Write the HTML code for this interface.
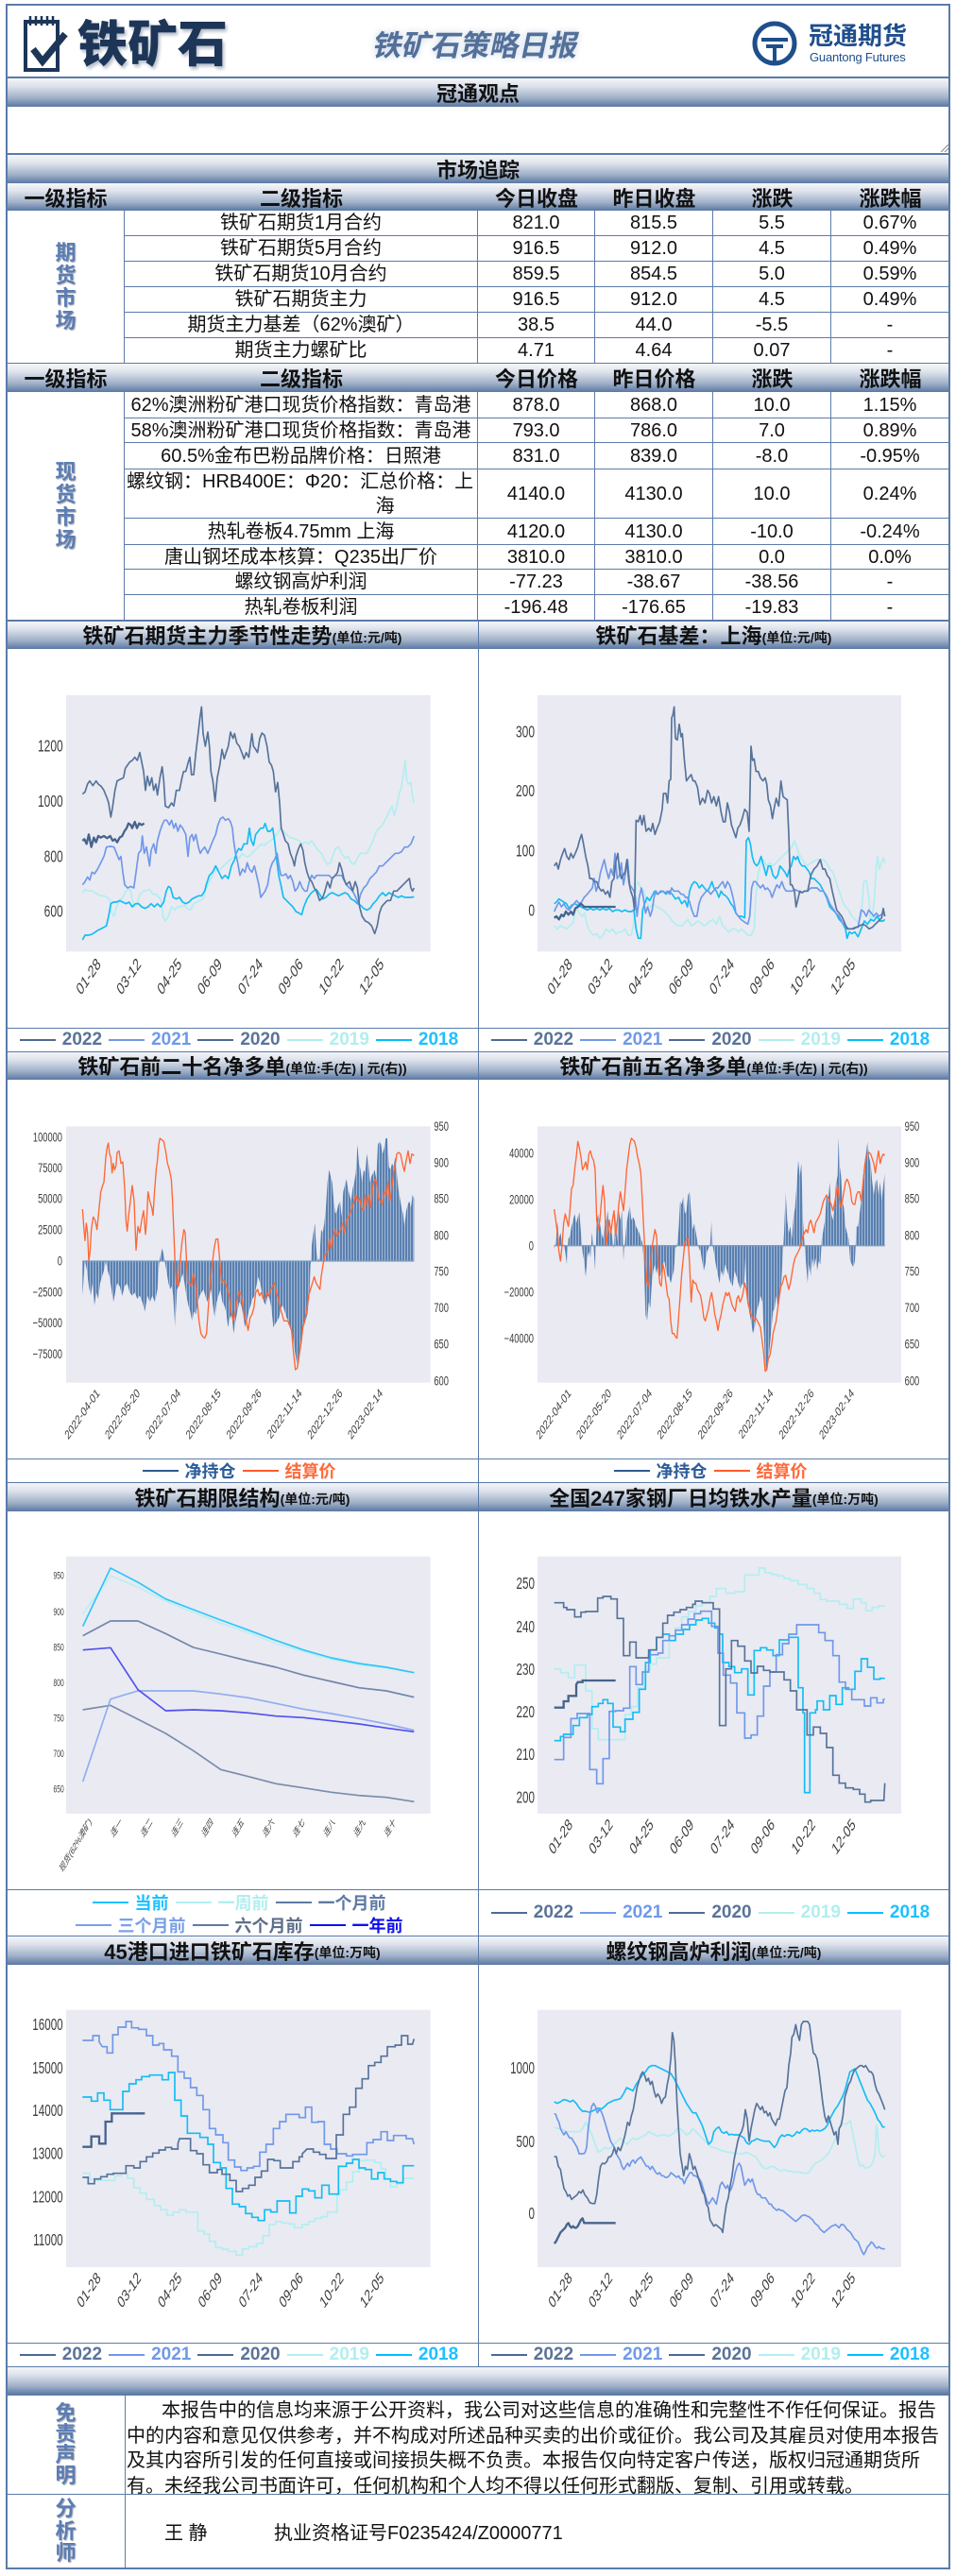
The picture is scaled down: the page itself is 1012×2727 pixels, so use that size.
<!DOCTYPE html>
<html><head><meta charset="utf-8">
<style>
*{margin:0;padding:0}
body{margin:0;background:#fff}
#p{position:relative;width:1012px;height:2727px;background:#fff;overflow:hidden;font-family:"Liberation Sans","Noto Sans CJK SC",sans-serif;color:#111}
.a{position:absolute}
.gb{position:absolute;background:linear-gradient(to bottom,#f6f7fa 0%,#dde2eb 30%,#9fb0c8 70%,#5a78a3 100%)}
.bt{display:flex;align-items:center;justify-content:center;font-weight:bold;font-size:22px;color:#111;font-family:"Liberation Sans","Noto Sans CJK SC",sans-serif}
.bt small{font-size:14px;font-weight:bold;margin-top:5px}
.hl{position:absolute;background:#5b7baa}
.r{position:absolute;left:132px;width:873px;display:flex}
.c{box-sizing:border-box;border-right:1px solid #5b7baa;border-bottom:1px solid #5b7baa;display:flex;align-items:center;justify-content:center;font-size:20px;white-space:nowrap;text-align:center;line-height:26px}
.hr{position:absolute;left:7px;width:998px;display:flex}
.hc{display:flex;align-items:center;justify-content:center;font-weight:bold;font-size:22px}
.vt{position:absolute;width:125px;display:flex;align-items:center;justify-content:center;text-align:center;font-weight:bold;font-size:22px;line-height:24px;color:#5b7db4;text-shadow:1px 1px 1px #a0a6b0}
.lg{position:absolute;display:flex;justify-content:center;align-items:center;font-weight:bold;font-size:19px;white-space:nowrap}
.lg i{display:inline-block;width:38px;height:2px;margin-right:7px}
.lg span{margin-right:7px}
.lg2{font-size:18px}
svg text{font-family:"Liberation Sans","Noto Sans CJK SC",sans-serif;fill:#3d3d3d}
</style></head>
<body>
<div id="p">

<!-- Header -->
<svg class="a" style="left:22px;top:14px" width="54" height="64" viewBox="0 0 54 64">
<rect x="5" y="9" width="34" height="51" fill="none" stroke="#1d3557" stroke-width="4"/>
<g stroke="#1d3557" stroke-width="2.5"><line x1="10" y1="3" x2="10" y2="13"/><line x1="16" y1="3" x2="16" y2="13"/><line x1="22" y1="3" x2="22" y2="13"/><line x1="28" y1="3" x2="28" y2="13"/><line x1="34" y1="3" x2="34" y2="13"/></g>
<polyline points="13,38 23,51 47,22" fill="none" stroke="#1d3557" stroke-width="7"/>
</svg>
<div class="a" style="left:82px;top:10px;font-size:53px;font-weight:900;color:#1d3557;line-height:66px;text-shadow:2px 3px 3px #b8c0cc;font-family:'Noto Sans CJK SC',sans-serif">铁矿石</div>
<div class="a" style="left:396px;top:26px;font-size:31px;font-weight:bold;color:#52709a;line-height:40px;text-shadow:0 0 8px #c8d2e2;transform:skewX(-12deg);font-family:'Noto Sans CJK SC',sans-serif">铁矿石策略日报</div>
<svg class="a" style="left:795px;top:20px" width="50" height="52" viewBox="0 0 50 52">
<circle cx="25" cy="26" r="21" fill="none" stroke="#1f4e8c" stroke-width="5"/>
<g stroke="#1f4e8c" stroke-width="4"><line x1="11" y1="22" x2="39" y2="22"/><line x1="16" y1="29" x2="34" y2="29"/><line x1="25" y1="29" x2="25" y2="45"/></g>
</svg>
<div class="a" style="left:856px;top:20px;font-size:26px;font-weight:bold;color:#1f4e8c;line-height:34px;font-family:'Noto Sans CJK SC',sans-serif">冠通期货</div>
<div class="a" style="left:857px;top:53px;font-size:13px;color:#1f4e8c;line-height:16px;letter-spacing:-0.2px">Guantong Futures</div>

<!-- bars -->
<div class="gb bt" style="left:7px;top:82px;width:998px;height:31px">冠通观点</div>
<svg class="a" style="left:996px;top:153px" width="8" height="8"><line x1="0" y1="8" x2="8" y2="0" stroke="#888"/><line x1="4" y1="8" x2="8" y2="4" stroke="#888"/></svg>
<div class="gb bt" style="left:7px;top:164px;width:998px;height:30px">市场追踪</div>
<div class="gb" style="left:7px;top:194px;width:998px;height:29px"></div>
<div class="hr" style="top:194px;height:29px"><div class="hc" style="width:125px">一级指标</div><div class="hc" style="width:374px">二级指标</div><div class="hc" style="width:124px">今日收盘</div><div class="hc" style="width:125px">昨日收盘</div><div class="hc" style="width:125px">涨跌</div><div class="hc" style="width:125px">涨跌幅</div></div>

<!-- section 1 -->
<div class="a" style="left:7px;top:223px;width:125px;height:162px;box-sizing:border-box;border-right:1px solid #5b7baa;border-bottom:1px solid #5b7baa"></div>
<div class="vt" style="left:7px;top:223px;height:162px">期<br>货<br>市<br>场</div>
<div class="r" style="top:223px;height:27px"><div class="c" style="width:374px">铁矿石期货1月合约</div><div class="c" style="width:124px">821.0</div><div class="c" style="width:125px">815.5</div><div class="c" style="width:125px">5.5</div><div class="c" style="width:125px">0.67%</div></div>
<div class="r" style="top:250px;height:27px"><div class="c" style="width:374px">铁矿石期货5月合约</div><div class="c" style="width:124px">916.5</div><div class="c" style="width:125px">912.0</div><div class="c" style="width:125px">4.5</div><div class="c" style="width:125px">0.49%</div></div>
<div class="r" style="top:277px;height:27px"><div class="c" style="width:374px">铁矿石期货10月合约</div><div class="c" style="width:124px">859.5</div><div class="c" style="width:125px">854.5</div><div class="c" style="width:125px">5.0</div><div class="c" style="width:125px">0.59%</div></div>
<div class="r" style="top:304px;height:27px"><div class="c" style="width:374px">铁矿石期货主力</div><div class="c" style="width:124px">916.5</div><div class="c" style="width:125px">912.0</div><div class="c" style="width:125px">4.5</div><div class="c" style="width:125px">0.49%</div></div>
<div class="r" style="top:331px;height:27px"><div class="c" style="width:374px">期货主力基差（62%澳矿）</div><div class="c" style="width:124px">38.5</div><div class="c" style="width:125px">44.0</div><div class="c" style="width:125px">-5.5</div><div class="c" style="width:125px">-</div></div>
<div class="r" style="top:358px;height:27px"><div class="c" style="width:374px">期货主力螺矿比</div><div class="c" style="width:124px">4.71</div><div class="c" style="width:125px">4.64</div><div class="c" style="width:125px">0.07</div><div class="c" style="width:125px">-</div></div>

<div class="gb" style="left:7px;top:385px;width:998px;height:30px"></div>
<div class="hr" style="top:385px;height:30px"><div class="hc" style="width:125px">一级指标</div><div class="hc" style="width:374px">二级指标</div><div class="hc" style="width:124px">今日价格</div><div class="hc" style="width:125px">昨日价格</div><div class="hc" style="width:125px">涨跌</div><div class="hc" style="width:125px">涨跌幅</div></div>

<!-- section 2 -->
<div class="a" style="left:7px;top:415px;width:125px;height:242px;box-sizing:border-box;border-right:1px solid #5b7baa;border-bottom:1px solid #5b7baa"></div>
<div class="vt" style="left:7px;top:415px;height:242px">现<br>货<br>市<br>场</div>
<div class="r" style="top:415px;height:28px"><div class="c" style="width:374px">62%澳洲粉矿港口现货价格指数：青岛港</div><div class="c" style="width:124px">878.0</div><div class="c" style="width:125px">868.0</div><div class="c" style="width:125px">10.0</div><div class="c" style="width:125px">1.15%</div></div>
<div class="r" style="top:443px;height:26px"><div class="c" style="width:374px">58%澳洲粉矿港口现货价格指数：青岛港</div><div class="c" style="width:124px">793.0</div><div class="c" style="width:125px">786.0</div><div class="c" style="width:125px">7.0</div><div class="c" style="width:125px">0.89%</div></div>
<div class="r" style="top:469px;height:28px"><div class="c" style="width:374px">60.5%金布巴粉品牌价格：日照港</div><div class="c" style="width:124px">831.0</div><div class="c" style="width:125px">839.0</div><div class="c" style="width:125px">-8.0</div><div class="c" style="width:125px">-0.95%</div></div>
<div class="r" style="top:497px;height:52px"><div class="c" style="width:374px;justify-content:flex-start;padding-left:2px"><div>螺纹钢：HRB400E：Φ20：汇总价格：上<br><span style="padding-left:180px">海</span></div></div><div class="c" style="width:124px">4140.0</div><div class="c" style="width:125px">4130.0</div><div class="c" style="width:125px">10.0</div><div class="c" style="width:125px">0.24%</div></div>
<div class="r" style="top:549px;height:28px"><div class="c" style="width:374px">热轧卷板4.75mm 上海</div><div class="c" style="width:124px">4120.0</div><div class="c" style="width:125px">4130.0</div><div class="c" style="width:125px">-10.0</div><div class="c" style="width:125px">-0.24%</div></div>
<div class="r" style="top:577px;height:26px"><div class="c" style="width:374px">唐山钢坯成本核算：Q235出厂价</div><div class="c" style="width:124px">3810.0</div><div class="c" style="width:125px">3810.0</div><div class="c" style="width:125px">0.0</div><div class="c" style="width:125px">0.0%</div></div>
<div class="r" style="top:603px;height:27px"><div class="c" style="width:374px">螺纹钢高炉利润</div><div class="c" style="width:124px">-77.23</div><div class="c" style="width:125px">-38.67</div><div class="c" style="width:125px">-38.56</div><div class="c" style="width:125px">-</div></div>
<div class="r" style="top:630px;height:27px"><div class="c" style="width:374px">热轧卷板利润</div><div class="c" style="width:124px">-196.48</div><div class="c" style="width:125px">-176.65</div><div class="c" style="width:125px">-19.83</div><div class="c" style="width:125px">-</div></div>

<!-- chart title bars -->
<div class="gb bt" style="left:7px;top:657px;width:499px;height:30px">铁矿石期货主力季节性走势<small>(单位:元/吨)</small></div>
<div class="gb bt" style="left:506px;top:657px;width:499px;height:30px">铁矿石基差：上海<small>(单位:元/吨)</small></div>
<div class="gb bt" style="left:7px;top:1113px;width:499px;height:30px">铁矿石前二十名净多单<small>(单位:手(左) | 元(右))</small></div>
<div class="gb bt" style="left:506px;top:1113px;width:499px;height:30px">铁矿石前五名净多单<small>(单位:手(左) | 元(右))</small></div>
<div class="gb bt" style="left:7px;top:1569px;width:499px;height:31px">铁矿石期限结构<small>(单位:元/吨)</small></div>
<div class="gb bt" style="left:506px;top:1569px;width:499px;height:31px">全国247家钢厂日均铁水产量<small>(单位:万吨)</small></div>
<div class="gb bt" style="left:7px;top:2049px;width:499px;height:31px">45港口进口铁矿石库存<small>(单位:万吨)</small></div>
<div class="gb bt" style="left:506px;top:2049px;width:499px;height:31px">螺纹钢高炉利润<small>(单位:元/吨)</small></div>
<div class="gb" style="left:7px;top:2505px;width:998px;height:30px"></div>

<!-- Chart 1L -->
<svg class="a" style="left:0;top:650px" width="510" height="480" viewBox="0 0 1530 1440">
<rect x="210" y="258" width="1157" height="814" fill="#eaeaf2"/>
<g font-size="36" text-anchor="end">
<text transform="translate(200,418) scale(1,1.5)" dy=".35em">1200</text>
<text transform="translate(200,593) scale(1,1.5)" dy=".35em">1000</text>
<text transform="translate(200,768) scale(1,1.5)" dy=".35em">800</text>
<text transform="translate(200,943) scale(1,1.5)" dy=".35em">600</text>
<text transform="translate(322,1115) scale(1,1.5) rotate(-45)">01-28</text>
<text transform="translate(450,1115) scale(1,1.5) rotate(-45)">03-12</text>
<text transform="translate(579,1115) scale(1,1.5) rotate(-45)">04-25</text>
<text transform="translate(707,1115) scale(1,1.5) rotate(-45)">06-09</text>
<text transform="translate(836,1115) scale(1,1.5) rotate(-45)">07-24</text>
<text transform="translate(964,1115) scale(1,1.5) rotate(-45)">09-06</text>
<text transform="translate(1093,1115) scale(1,1.5) rotate(-45)">10-22</text>
<text transform="translate(1221,1115) scale(1,1.5) rotate(-45)">12-05</text>
</g>
<g fill="none" stroke-width="5" stroke-linejoin="round">
<polyline stroke="#b2eef0" points="262,885 270,875 280,880 290,878 300,885 310,890 320,895 330,895 340,900 350,910 355,950 362,960 370,930 380,910 390,900 400,880 408,870 415,880 425,930 435,920 445,890 455,880 465,878 475,875 485,890 495,890 505,900 512,910 518,960 525,975 535,960 545,930 555,940 565,930 575,930 585,925 595,935 605,940 615,920 625,915 635,910 645,905 652,880 660,860 670,840 680,820 690,810 700,810 710,800 720,790 730,780 740,775 750,770 760,775 770,760 780,770 790,770 800,760 810,750 820,740 830,730 840,735 850,725 860,720 870,710 880,700 890,680 900,690 910,700 920,710 930,712 940,715 950,720 960,730 970,725 980,730 990,720 1000,735 1010,750 1020,760 1030,780 1040,795 1050,790 1058,765 1065,745 1075,740 1085,760 1095,775 1105,770 1115,790 1125,795 1135,775 1145,760 1155,760 1165,760 1175,740 1185,720 1195,690 1205,680 1215,670 1225,650 1235,630 1245,610 1252,640 1260,610 1268,570 1275,550 1282,500 1287,465 1292,530 1298,540 1305,535 1310,580 1315,600"/>
<polyline stroke="#12bdf5" points="262,1035 270,1020 280,1020 290,1018 300,1012 310,1005 320,1000 330,995 338,990 345,960 352,920 360,915 370,915 380,910 390,915 400,920 410,915 420,930 430,920 440,920 450,930 460,935 470,930 480,920 490,930 500,920 510,930 520,915 528,880 535,865 542,870 550,900 560,905 570,900 580,915 590,920 600,915 610,905 620,900 630,895 640,895 650,880 655,860 665,830 675,820 685,800 695,820 705,840 715,830 725,840 735,800 745,780 750,760 758,745 766,750 775,730 785,730 792,680 798,720 805,735 812,700 820,690 828,680 836,680 842,665 850,690 858,690 866,680 872,720 878,775 885,830 892,860 900,900 910,910 920,920 930,930 940,945 950,950 958,955 965,930 975,905 985,890 995,880 1005,875 1015,890 1025,905 1035,900 1045,890 1055,885 1065,890 1075,895 1085,890 1095,885 1105,890 1115,905 1125,910 1135,920 1145,925 1155,935 1165,940 1175,935 1185,920 1195,910 1205,895 1215,885 1225,895 1235,885 1245,890 1255,895 1265,900 1275,895 1285,900 1295,900 1305,900 1315,898"/>
<polyline stroke="#6f98ea" points="262,860 270,850 278,835 285,845 292,820 300,825 310,810 320,790 330,770 338,740 350,738 362,740 370,760 378,780 384,770 390,820 396,860 405,870 415,865 425,870 432,820 440,760 448,750 452,705 458,760 465,740 470,770 475,800 480,750 488,730 495,760 500,720 508,690 515,670 522,655 530,655 538,670 545,655 552,680 558,665 565,690 572,670 580,680 590,700 597,770 603,710 610,700 615,720 622,700 630,740 636,760 642,750 650,740 660,760 668,740 676,720 685,700 692,670 700,650 708,645 716,655 725,650 732,660 738,680 742,720 748,760 755,790 762,830 770,810 778,820 785,790 792,810 800,820 808,800 815,830 822,860 828,900 835,890 842,880 850,860 858,810 865,790 872,780 880,760 886,800 892,830 900,830 908,825 915,840 922,830 930,850 937,880 945,870 952,850 960,870 968,880 975,880 982,850 990,830 998,840 1005,830 1015,830 1025,830 1035,830 1045,830 1055,840 1065,830 1075,830 1085,830 1092,845 1100,860 1110,870 1120,880 1130,900 1138,920 1145,890 1155,870 1165,860 1175,840 1185,830 1195,820 1205,800 1215,800 1225,790 1235,780 1245,770 1255,760 1265,760 1275,755 1285,740 1295,740 1305,730 1315,705"/>
<polyline stroke="#55739b" points="262,572 270,565 278,540 285,530 295,545 305,530 312,540 322,548 330,560 340,585 345,600 352,645 358,610 365,560 372,530 382,525 392,520 398,490 405,480 412,470 420,465 428,455 436,465 444,440 450,470 456,500 462,560 468,515 475,545 482,520 488,560 495,540 500,575 508,520 515,485 520,530 525,610 535,615 545,600 552,610 560,560 570,560 578,520 583,500 590,500 598,470 603,455 608,510 615,510 622,440 628,390 635,330 640,295 645,380 652,420 660,375 665,420 670,500 676,530 683,595 690,520 698,480 705,430 712,460 718,440 725,420 732,375 740,395 745,380 752,410 760,420 768,440 775,460 782,440 790,455 800,380 805,420 812,430 818,440 825,395 832,378 840,385 848,420 855,470 862,480 868,500 875,565 882,535 888,600 893,680 900,700 906,720 915,730 922,760 930,780 935,800 940,770 948,745 955,730 962,750 968,790 975,820 982,840 990,850 998,870 1005,880 1015,910 1025,900 1032,880 1040,850 1048,870 1055,840 1065,830 1072,820 1078,790 1085,810 1092,840 1100,860 1110,850 1120,880 1128,850 1135,870 1142,930 1150,960 1160,975 1170,980 1180,990 1190,1015 1198,990 1205,950 1212,930 1220,920 1230,910 1240,910 1250,880 1260,880 1270,870 1280,860 1290,850 1300,840 1305,870 1310,880 1315,870"/>
<polyline stroke="#46648d" stroke-width="7" points="262,720 268,715 275,730 282,700 290,740 298,710 305,725 312,705 320,710 330,705 340,712 350,705 358,720 365,715 372,725 380,710 388,705 395,690 402,680 408,665 415,670 420,680 428,660 435,680 442,665 450,670 458,665"/>
</g>
</svg>

<!-- Chart 1R -->
<svg class="a" style="left:505px;top:650px" width="507" height="480" viewBox="0 0 1521 1440">
<rect x="192" y="258" width="1155" height="814" fill="#eaeaf2"/>
<g font-size="36" text-anchor="end">
<text transform="translate(183,372) scale(1,1.5)" dy=".35em">300</text>
<text transform="translate(183,560) scale(1,1.5)" dy=".35em">200</text>
<text transform="translate(183,750) scale(1,1.5)" dy=".35em">100</text>
<text transform="translate(183,940) scale(1,1.5)" dy=".35em">0</text>
<text transform="translate(304,1115) scale(1,1.5) rotate(-45)">01-28</text>
<text transform="translate(432,1115) scale(1,1.5) rotate(-45)">03-12</text>
<text transform="translate(561,1115) scale(1,1.5) rotate(-45)">04-25</text>
<text transform="translate(689,1115) scale(1,1.5) rotate(-45)">06-09</text>
<text transform="translate(818,1115) scale(1,1.5) rotate(-45)">07-24</text>
<text transform="translate(946,1115) scale(1,1.5) rotate(-45)">09-06</text>
<text transform="translate(1075,1115) scale(1,1.5) rotate(-45)">10-22</text>
<text transform="translate(1203,1115) scale(1,1.5) rotate(-45)">12-05</text>
</g>
<g fill="none" stroke-width="5" stroke-linejoin="round">
<polyline stroke="#b2eef0" points="245,990 255,1000 265,990 275,995 285,1000 295,990 305,980 315,930 325,950 335,960 342,950 350,990 360,1010 370,1020 380,1015 390,1030 400,1020 410,1000 420,1010 430,1000 440,1015 450,1010 460,1010 470,1000 480,1020 490,1020 498,980 505,860 512,850 520,870 530,880 540,920 550,930 560,920 570,930 580,935 590,940 600,950 610,960 620,975 630,985 640,990 650,990 660,980 670,970 680,990 690,985 700,975 710,980 720,990 730,985 740,975 750,970 760,985 770,960 780,990 790,1000 800,1010 810,1000 820,1000 830,1010 840,1000 850,1010 860,1020 870,1020 880,1000 885,900 892,830 900,790 910,780 920,800 930,790 940,800 950,790 960,780 970,770 980,760 990,750 1000,740 1008,720 1015,740 1022,760 1030,775 1040,790 1050,800 1060,790 1070,785 1080,780 1090,780 1100,780 1110,790 1120,810 1130,820 1140,850 1150,880 1160,910 1170,930 1180,940 1190,960 1200,970 1210,980 1220,960 1228,850 1236,845 1244,900 1250,980 1256,960 1262,900 1268,800 1272,770 1278,810 1284,790 1290,775 1295,790"/>
<polyline stroke="#12bdf5" points="245,920 252,915 260,905 268,910 276,915 284,920 292,935 300,925 310,920 320,925 330,930 340,935 350,940 360,935 370,940 380,935 390,940 400,935 410,940 420,935 430,945 440,940 450,940 460,945 470,940 480,945 490,945 498,940 505,1000 512,1030 520,1030 526,940 532,920 540,900 548,910 556,895 564,880 572,890 580,885 590,880 600,890 610,880 620,890 630,905 640,900 650,920 660,910 668,930 675,880 682,860 690,850 698,855 706,870 714,860 722,870 730,880 738,870 746,850 752,870 760,880 768,900 775,880 782,890 790,895 798,905 806,920 814,930 822,950 830,960 840,960 850,965 855,720 862,710 868,730 874,770 880,790 888,800 895,790 902,770 910,800 918,830 925,800 932,800 940,830 948,840 955,830 962,800 970,810 978,820 985,835 992,810 998,800 1005,770 1012,780 1018,770 1025,790 1032,800 1040,800 1048,810 1055,820 1062,840 1070,840 1080,850 1090,860 1100,880 1110,900 1120,930 1130,940 1140,950 1150,970 1160,980 1170,1000 1175,1030 1182,1010 1190,1015 1200,1010 1210,1025 1220,1000 1230,975 1240,985 1250,970 1260,975 1270,960 1280,975 1290,975 1295,970"/>
<polyline stroke="#6f98ea" points="245,945 252,930 260,915 268,930 276,920 284,935 292,940 300,930 308,920 316,910 324,920 332,915 340,900 350,890 358,880 366,870 372,840 378,880 385,860 392,820 398,800 404,780 410,810 418,840 425,810 432,830 438,760 445,840 452,830 458,790 465,860 472,820 478,780 485,860 492,870 498,880 503,900 508,960 515,900 522,870 528,900 535,950 542,930 550,960 556,940 562,900 568,880 575,890 582,880 590,880 598,885 605,880 612,890 618,870 625,880 632,880 640,880 648,890 655,890 662,900 668,900 675,915 682,940 690,960 698,960 705,920 712,900 720,890 728,880 735,880 742,890 750,880 758,870 765,870 772,860 780,850 788,870 795,850 802,860 808,880 815,910 822,950 830,960 838,970 845,975 852,980 860,985 866,960 872,870 878,850 885,850 892,860 900,870 908,860 915,875 922,870 930,880 937,900 944,880 952,860 960,870 968,850 975,870 982,880 990,880 1000,880 1010,875 1020,880 1030,885 1040,880 1050,880 1060,870 1070,870 1080,870 1090,880 1100,880 1110,895 1120,920 1130,935 1140,950 1150,960 1160,980 1170,990 1180,1000 1190,1000 1200,995 1210,995 1220,940 1228,945 1236,960 1244,940 1252,950 1260,960 1268,950 1276,960 1284,955 1290,945 1295,960"/>
<polyline stroke="#55739b" points="245,800 252,790 258,810 265,780 272,760 278,745 285,770 292,780 298,760 305,775 312,760 320,740 325,720 332,700 338,730 345,770 352,800 358,840 365,840 372,850 380,850 388,870 395,880 400,875 408,890 415,880 422,900 428,850 435,840 440,790 447,760 452,810 458,840 464,830 470,820 476,780 482,850 488,880 495,900 500,940 505,655 512,660 518,640 524,670 530,640 537,690 545,680 552,690 558,665 565,700 572,680 580,660 588,620 592,570 600,570 605,600 610,530 615,525 618,330 622,320 626,295 630,395 636,400 642,350 648,390 652,380 658,460 665,530 672,520 680,510 686,530 692,530 700,550 708,605 716,585 724,600 732,560 738,570 745,600 752,580 760,610 767,580 775,630 782,660 788,660 795,600 802,630 808,670 815,690 822,710 828,680 835,670 842,650 850,620 858,630 864,690 870,420 875,465 880,460 886,500 893,500 900,520 908,530 915,520 920,540 925,590 932,610 938,650 943,620 950,585 958,610 965,530 972,580 978,585 985,590 990,700 995,860 1000,860 1008,880 1013,930 1018,910 1025,880 1032,885 1040,880 1050,880 1060,830 1070,810 1080,800 1090,780 1098,810 1105,810 1112,830 1120,840 1128,880 1135,910 1142,940 1150,950 1158,960 1165,975 1175,1000 1185,1000 1195,1000 1205,995 1215,990 1225,985 1235,990 1245,1000 1255,995 1265,985 1275,975 1285,965 1290,935 1295,960"/>
<polyline stroke="#46648d" stroke-width="7" points="245,965 252,960 260,970 268,955 275,960 282,945 290,955 298,945 305,955 312,935 320,930 330,920 340,930 360,930 380,930 400,930 440,930"/>
</g>
</svg>

<!-- Chart 2L -->
<svg class="a" style="left:0;top:1105px" width="510" height="480" viewBox="0 0 1530 1440">
<defs><pattern id="bp1" width="9" height="10" patternUnits="userSpaceOnUse"><rect width="9" height="10" fill="#9fb6d3"/><rect width="6" height="10" fill="#5a80b0"/></pattern></defs>
<rect x="210" y="262" width="1157" height="814" fill="#eaeaf2"/>
<g font-size="28" text-anchor="end">
<text transform="translate(198,296) scale(1,1.45)" dy=".35em">100000</text>
<text transform="translate(198,394) scale(1,1.45)" dy=".35em">75000</text>
<text transform="translate(198,492) scale(1,1.45)" dy=".35em">50000</text>
<text transform="translate(198,590) scale(1,1.45)" dy=".35em">25000</text>
<text transform="translate(198,690) scale(1,1.45)" dy=".35em">0</text>
<text transform="translate(198,788) scale(1,1.45)" dy=".35em">−25000</text>
<text transform="translate(198,886) scale(1,1.45)" dy=".35em">−50000</text>
<text transform="translate(198,985) scale(1,1.45)" dy=".35em">−75000</text>
<text transform="translate(318,1112) scale(1,1.45) rotate(-45)">2022-04-01</text>
<text transform="translate(446,1112) scale(1,1.45) rotate(-45)">2022-05-20</text>
<text transform="translate(575,1112) scale(1,1.45) rotate(-45)">2022-07-04</text>
<text transform="translate(703,1112) scale(1,1.45) rotate(-45)">2022-08-15</text>
<text transform="translate(832,1112) scale(1,1.45) rotate(-45)">2022-09-26</text>
<text transform="translate(960,1112) scale(1,1.45) rotate(-45)">2022-11-14</text>
<text transform="translate(1089,1112) scale(1,1.45) rotate(-45)">2022-12-26</text>
<text transform="translate(1217,1112) scale(1,1.45) rotate(-45)">2023-02-14</text>
</g>
<g font-size="28" text-anchor="start">
<text transform="translate(1378,262) scale(1,1.45)" dy=".35em">950</text>
<text transform="translate(1378,377) scale(1,1.45)" dy=".35em">900</text>
<text transform="translate(1378,492) scale(1,1.45)" dy=".35em">850</text>
<text transform="translate(1378,608) scale(1,1.45)" dy=".35em">800</text>
<text transform="translate(1378,723) scale(1,1.45)" dy=".35em">750</text>
<text transform="translate(1378,838) scale(1,1.45)" dy=".35em">700</text>
<text transform="translate(1378,954) scale(1,1.45)" dy=".35em">650</text>
<text transform="translate(1378,1070) scale(1,1.45)" dy=".35em">600</text>
</g>
<polygon fill="url(#bp1)" points="262,690 262,800 266,740 270,690 276,720 282,770 288,800 294,760 300,830 306,790 312,810 318,760 324,740 330,720 336,690 342,720 348,740 354,780 360,820 366,790 372,760 380,770 388,800 396,770 404,760 412,790 420,800 428,790 436,810 444,800 452,820 460,850 468,800 476,820 484,800 492,820 500,780 505,700 510,670 515,650 520,670 525,700 530,730 535,760 540,780 545,770 550,800 556,900 562,780 568,770 574,750 580,730 586,760 592,800 598,830 604,850 610,880 616,850 622,860 628,820 634,800 640,790 646,780 652,800 658,820 664,800 670,780 676,830 682,870 688,820 694,800 700,780 706,820 712,830 718,850 724,900 730,870 736,860 742,920 748,880 754,850 760,820 766,830 772,860 778,900 784,880 790,850 796,830 802,810 808,800 814,770 820,740 826,760 832,790 838,820 844,830 850,800 856,810 862,840 868,900 874,890 880,880 886,870 892,840 898,830 904,850 910,870 916,880 922,900 928,920 934,960 940,1000 946,1030 952,990 958,950 964,900 970,880 976,860 982,810 986,700 988,690 990,640 995,600 1000,570 1005,660 1010,690 1015,680 1020,590 1025,600 1030,570 1035,520 1040,440 1045,400 1050,420 1055,440 1060,500 1065,540 1070,530 1075,510 1080,500 1085,550 1090,470 1095,450 1100,430 1105,460 1110,480 1115,500 1120,460 1125,440 1130,410 1135,320 1140,380 1145,400 1150,440 1155,400 1160,410 1165,350 1170,380 1175,440 1180,420 1185,410 1190,400 1195,430 1200,320 1205,310 1210,320 1215,350 1220,330 1225,300 1230,300 1235,390 1240,400 1245,380 1250,390 1255,360 1260,410 1265,460 1270,490 1275,520 1280,540 1285,580 1290,530 1295,510 1300,500 1305,520 1310,480 1315,490 1315,690"/>
<line x1="262" y1="690" x2="1315" y2="690" stroke="#7c9cc4" stroke-width="4"/>
<polyline fill="none" stroke="#ff6633" stroke-width="4" stroke-linejoin="round" points="262,525 266,580 270,625 274,570 278,600 282,690 286,660 290,590 296,550 302,560 308,590 314,530 320,470 326,450 330,440 336,360 340,330 344,315 348,350 352,360 356,410 360,380 364,400 368,390 372,345 378,340 384,380 390,375 396,460 400,560 404,595 408,550 414,500 420,450 426,500 432,655 438,580 444,600 450,560 456,530 462,605 466,560 470,470 476,500 482,520 486,545 490,480 496,400 500,370 504,320 508,300 514,305 520,310 526,340 532,380 538,400 544,430 548,500 552,600 556,700 560,760 566,770 572,690 578,630 584,590 588,600 592,680 596,760 602,760 608,770 614,730 620,750 626,810 632,880 638,920 644,930 650,935 656,920 662,830 668,750 674,700 680,650 686,620 692,620 698,690 704,760 710,750 716,760 722,780 728,800 734,850 740,880 746,860 752,820 758,790 764,790 770,820 776,870 782,880 788,910 794,870 800,860 806,840 812,790 818,780 824,800 830,790 836,810 842,810 848,790 854,800 860,780 866,770 872,760 878,790 884,810 890,840 896,860 902,880 908,880 914,880 920,895 926,910 932,980 938,1035 944,1030 950,990 956,950 962,900 968,880 974,850 980,800 986,780 992,760 998,740 1004,760 1010,770 1016,780 1020,740 1026,700 1032,670 1040,660 1046,620 1052,650 1058,610 1064,590 1070,610 1076,600 1082,590 1088,570 1094,600 1100,560 1106,550 1112,540 1118,520 1124,500 1130,480 1136,500 1142,490 1148,520 1154,530 1160,480 1166,510 1172,480 1178,520 1184,450 1190,430 1196,440 1202,490 1208,500 1214,510 1220,470 1226,480 1232,440 1238,500 1244,460 1250,410 1256,380 1260,350 1266,345 1272,350 1278,380 1284,405 1290,370 1296,340 1302,380 1308,350 1315,355"/>
</svg>

<!-- Chart 2R -->
<svg class="a" style="left:505px;top:1105px" width="507" height="480" viewBox="0 0 1521 1440">
<defs><pattern id="bp2" width="9" height="10" patternUnits="userSpaceOnUse"><rect width="9" height="10" fill="#9fb6d3"/><rect width="6" height="10" fill="#5a80b0"/></pattern></defs>
<rect x="192" y="262" width="1155" height="814" fill="#eaeaf2"/>
<g font-size="28" text-anchor="end">
<text transform="translate(180,348) scale(1,1.45)" dy=".35em">40000</text>
<text transform="translate(180,495) scale(1,1.45)" dy=".35em">20000</text>
<text transform="translate(180,641) scale(1,1.45)" dy=".35em">0</text>
<text transform="translate(180,788) scale(1,1.45)" dy=".35em">−20000</text>
<text transform="translate(180,935) scale(1,1.45)" dy=".35em">−40000</text>
<text transform="translate(300,1112) scale(1,1.45) rotate(-45)">2022-04-01</text>
<text transform="translate(428,1112) scale(1,1.45) rotate(-45)">2022-05-20</text>
<text transform="translate(557,1112) scale(1,1.45) rotate(-45)">2022-07-04</text>
<text transform="translate(685,1112) scale(1,1.45) rotate(-45)">2022-08-15</text>
<text transform="translate(814,1112) scale(1,1.45) rotate(-45)">2022-09-26</text>
<text transform="translate(942,1112) scale(1,1.45) rotate(-45)">2022-11-14</text>
<text transform="translate(1071,1112) scale(1,1.45) rotate(-45)">2022-12-26</text>
<text transform="translate(1199,1112) scale(1,1.45) rotate(-45)">2023-02-14</text>
</g>
<g font-size="28" text-anchor="start">
<text transform="translate(1358,262) scale(1,1.45)" dy=".35em">950</text>
<text transform="translate(1358,377) scale(1,1.45)" dy=".35em">900</text>
<text transform="translate(1358,492) scale(1,1.45)" dy=".35em">850</text>
<text transform="translate(1358,608) scale(1,1.45)" dy=".35em">800</text>
<text transform="translate(1358,723) scale(1,1.45)" dy=".35em">750</text>
<text transform="translate(1358,838) scale(1,1.45)" dy=".35em">700</text>
<text transform="translate(1358,954) scale(1,1.45)" dy=".35em">650</text>
<text transform="translate(1358,1070) scale(1,1.45)" dy=".35em">600</text>
</g>
<polygon fill="url(#bp2)" points="245,641 245,650 250,630 255,565 260,620 265,600 270,630 275,640 280,660 285,700 290,620 295,610 300,580 305,560 310,540 315,570 320,550 325,535 330,600 335,660 340,690 345,740 350,680 355,660 360,680 365,600 370,640 375,720 380,560 385,540 390,570 395,600 400,620 405,580 410,560 415,530 420,600 425,580 430,620 435,650 440,540 445,630 450,530 455,560 460,530 465,690 470,630 475,570 480,540 485,515 490,560 495,550 500,560 505,580 510,590 515,600 520,620 525,630 530,700 535,860 540,880 545,820 550,840 555,760 560,720 565,700 570,730 575,700 580,740 585,730 590,700 595,690 600,720 605,740 610,740 615,760 620,740 625,720 630,650 635,640 640,590 645,500 650,510 655,485 660,540 665,530 670,480 675,470 680,540 685,590 690,570 695,600 700,630 705,650 710,660 715,690 720,720 725,700 730,660 735,650 740,640 745,560 748,640 752,660 758,700 764,730 770,760 776,720 782,740 788,700 794,720 800,740 806,760 812,770 818,720 824,740 830,760 836,780 842,760 848,770 852,680 858,820 864,850 870,880 876,920 882,900 888,850 894,830 900,800 906,820 912,940 916,1040 920,1035 925,1000 930,960 935,900 940,850 945,840 950,800 955,840 960,820 965,780 970,690 975,600 980,470 985,560 990,600 995,580 1000,620 1005,550 1010,520 1015,450 1020,370 1025,420 1030,380 1035,560 1040,640 1045,700 1050,760 1055,700 1060,740 1065,680 1070,710 1075,680 1080,720 1085,690 1090,700 1095,620 1100,590 1105,560 1110,480 1115,500 1120,440 1125,540 1130,560 1135,520 1140,440 1145,420 1148,300 1152,390 1156,420 1160,500 1165,520 1170,580 1175,600 1180,620 1185,690 1190,700 1195,710 1200,690 1205,580 1210,580 1215,540 1220,500 1225,430 1230,380 1235,350 1240,310 1245,360 1250,380 1255,440 1260,480 1265,440 1270,430 1275,480 1280,440 1285,500 1290,450 1295,410 1295,641"/>
<line x1="245" y1="641" x2="1295" y2="641" stroke="#7c9cc4" stroke-width="4"/>
<polyline fill="none" stroke="#ff6633" stroke-width="4" stroke-linejoin="round" points="245,525 250,560 255,600 260,660 265,690 270,640 275,570 280,540 285,560 290,580 295,530 300,460 305,450 310,400 315,360 320,310 325,330 330,360 335,400 340,390 345,375 350,400 355,350 360,340 365,360 370,370 375,400 380,560 385,590 390,560 395,500 400,450 405,500 410,640 415,600 420,560 425,600 430,560 435,530 440,610 445,570 450,510 455,470 460,500 465,530 470,470 475,400 480,360 485,320 490,300 495,305 500,310 505,330 510,360 515,380 520,410 525,500 530,600 535,700 540,760 545,770 550,710 555,650 560,620 565,590 570,610 575,700 580,760 585,770 590,700 595,720 600,760 605,800 610,810 615,880 620,920 625,920 630,930 635,935 640,870 645,800 650,730 655,680 660,630 665,620 670,620 675,700 680,820 685,750 690,760 695,760 700,780 705,790 710,800 715,830 720,870 725,880 730,860 735,840 740,810 745,790 750,820 755,860 760,880 765,910 770,880 775,860 780,830 785,810 790,790 795,800 800,790 805,810 810,830 815,840 820,850 825,810 830,800 835,820 840,810 845,790 850,760 855,780 860,820 865,840 870,860 875,870 880,880 885,870 890,880 895,890 900,900 905,940 910,980 915,1040 920,1035 925,1000 930,990 935,960 940,920 945,900 950,880 955,840 960,800 965,770 970,760 975,740 980,735 985,760 990,780 995,760 1000,730 1005,700 1010,680 1015,670 1020,660 1025,650 1030,630 1035,610 1040,600 1045,590 1050,600 1055,570 1060,560 1065,580 1070,600 1075,570 1080,560 1085,550 1090,540 1095,520 1100,500 1105,490 1110,480 1115,490 1120,500 1125,510 1130,530 1135,510 1140,480 1145,450 1150,490 1155,520 1160,500 1165,470 1170,440 1175,430 1180,440 1185,460 1190,500 1195,510 1200,510 1205,480 1210,470 1215,470 1220,500 1225,450 1230,400 1235,360 1240,350 1245,345 1250,350 1255,365 1260,380 1265,410 1270,370 1275,340 1280,380 1285,360 1290,350 1295,355"/>
</svg>

<!-- Chart 3L -->
<svg class="a" style="left:0;top:1560px" width="510" height="500" viewBox="0 0 1530 1500">
<rect x="210" y="263" width="1157" height="817" fill="#eaeaf2"/>
<g font-size="20" text-anchor="end">
<text transform="translate(203,323) scale(1,1.7)" dy=".35em">950</text>
<text transform="translate(203,438) scale(1,1.7)" dy=".35em">900</text>
<text transform="translate(203,550) scale(1,1.7)" dy=".35em">850</text>
<text transform="translate(203,663) scale(1,1.7)" dy=".35em">800</text>
<text transform="translate(203,776) scale(1,1.7)" dy=".35em">750</text>
<text transform="translate(203,888) scale(1,1.7)" dy=".35em">700</text>
<text transform="translate(203,1000) scale(1,1.7)" dy=".35em">650</text>
<text transform="translate(292,1108) scale(1,1.7) rotate(-45)">现货(62%澳矿)</text>
<text transform="translate(389,1108) scale(1,1.7) rotate(-45)">连一</text>
<text transform="translate(485,1108) scale(1,1.7) rotate(-45)">连二</text>
<text transform="translate(582,1108) scale(1,1.7) rotate(-45)">连三</text>
<text transform="translate(678,1108) scale(1,1.7) rotate(-45)">连四</text>
<text transform="translate(775,1108) scale(1,1.7) rotate(-45)">连五</text>
<text transform="translate(872,1108) scale(1,1.7) rotate(-45)">连六</text>
<text transform="translate(968,1108) scale(1,1.7) rotate(-45)">连七</text>
<text transform="translate(1065,1108) scale(1,1.7) rotate(-45)">连八</text>
<text transform="translate(1161,1108) scale(1,1.7) rotate(-45)">连九</text>
<text transform="translate(1258,1108) scale(1,1.7) rotate(-45)">连十</text>
</g>
<g fill="none" stroke-width="5" stroke-linejoin="round">
<polyline stroke="#7a8cab" points="263,750 351,736 438,780 526,825 614,880 701,940 789,962 877,985 964,998 1052,1012 1140,1022 1227,1028 1315,1042"/>
<polyline stroke="#90adf0" points="263,978 351,716 438,690 526,690 614,690 701,700 789,712 877,730 964,748 1052,762 1140,778 1227,795 1315,815"/>
<polyline stroke="#6f86ab" points="263,515 351,468 438,468 526,508 614,552 701,573 789,595 877,615 964,640 1052,660 1140,680 1227,690 1315,710"/>
<polyline stroke="#5050ee" points="263,560 351,553 438,686 526,753 614,750 701,753 789,760 877,770 964,775 1052,785 1140,795 1227,808 1315,820"/>
<polyline stroke="#bdeef2" points="263,445 351,325 438,360 526,405 614,440 701,475 789,505 877,540 964,565 1052,590 1140,607 1227,617 1315,632"/>
<polyline stroke="#2ec6fb" points="263,485 351,300 438,345 526,398 614,432 701,465 789,497 877,530 964,560 1052,585 1140,603 1227,615 1315,632"/>
</g>
</svg>

<!-- Chart 3R -->
<svg class="a" style="left:505px;top:1560px" width="507" height="500" viewBox="0 0 1521 1500">
<rect x="192" y="263" width="1155" height="817" fill="#eaeaf2"/>
<g font-size="35" text-anchor="end">
<text transform="translate(183,348) scale(1,1.5)" dy=".35em">250</text>
<text transform="translate(183,485) scale(1,1.5)" dy=".35em">240</text>
<text transform="translate(183,620) scale(1,1.5)" dy=".35em">230</text>
<text transform="translate(183,756) scale(1,1.5)" dy=".35em">220</text>
<text transform="translate(183,890) scale(1,1.5)" dy=".35em">210</text>
<text transform="translate(183,1027) scale(1,1.5)" dy=".35em">200</text>
<text transform="translate(305,1118) scale(1,1.5) rotate(-45)">01-28</text>
<text transform="translate(433,1118) scale(1,1.5) rotate(-45)">03-12</text>
<text transform="translate(562,1118) scale(1,1.5) rotate(-45)">04-25</text>
<text transform="translate(690,1118) scale(1,1.5) rotate(-45)">06-09</text>
<text transform="translate(819,1118) scale(1,1.5) rotate(-45)">07-24</text>
<text transform="translate(947,1118) scale(1,1.5) rotate(-45)">09-06</text>
<text transform="translate(1076,1118) scale(1,1.5) rotate(-45)">10-22</text>
<text transform="translate(1204,1118) scale(1,1.5) rotate(-45)">12-05</text>
</g>
<g fill="none" stroke-width="5">
<polyline stroke="#b2eef0" points="245,620 265,620 265,632 290,632 290,648 310,648 310,608 345,608 345,690 365,690 365,810 385,810 385,845 470,845 470,765 490,765 490,740 510,740 510,680 530,680 530,625 550,625 550,605 570,605 570,585 610,585 610,530 630,530 630,490 650,490 650,455 672,455 672,438 695,438 695,420 715,420 715,408 740,408 740,390 760,390 760,365 790,365 790,380 820,380 820,375 850,375 850,322 895,322 895,300 915,300 915,315 935,315 935,320 955,320 955,325 975,325 975,333 995,333 995,340 1020,340 1020,352 1048,352 1048,365 1070,365 1070,380 1090,380 1090,400 1110,400 1110,405 1150,405 1150,415 1175,415 1175,428 1195,428 1195,398 1220,398 1220,410 1235,410 1235,435 1255,435 1255,425 1275,425 1275,420 1295,420"/>
<polyline stroke="#12bdf5" points="245,848 265,848 265,835 275,835 275,828 305,828 305,800 325,800 325,775 350,775 350,765 365,765 365,740 385,740 385,730 400,730 400,718 415,718 415,730 432,730 432,805 455,805 455,820 470,820 470,780 495,780 495,758 515,758 515,685 535,685 535,600 550,600 550,560 570,560 570,520 590,520 590,510 610,510 610,530 630,530 630,510 655,510 655,495 675,495 675,480 695,480 695,465 715,465 715,460 735,460 735,475 755,475 755,490 770,490 770,510 780,510 780,600 800,600 800,613 818,613 818,632 840,632 840,620 860,620 860,703 880,703 880,562 900,562 900,553 920,553 920,560 940,560 940,578 960,578 960,528 990,528 990,520 1020,520 1020,680 1035,680 1035,760 1040,760 1040,1013 1057,1013 1057,760 1075,760 1075,750 1080,750 1080,722 1100,722 1100,750 1120,750 1120,705 1140,705 1140,733 1160,733 1160,680 1180,680 1180,685 1200,685 1200,628 1220,628 1220,588 1240,588 1240,615 1260,615 1260,653 1280,653 1280,650 1295,650"/>
<polyline stroke="#6f98ea" points="245,908 275,908 275,838 298,838 298,778 318,778 318,762 358,762 358,940 380,940 380,985 400,985 400,905 420,905 420,755 440,755 440,753 465,753 465,745 485,745 485,613 505,613 505,670 525,670 525,630 545,630 545,575 575,575 575,570 590,570 590,530 610,530 610,515 630,515 630,497 650,497 650,480 670,480 670,462 690,462 690,445 710,445 710,437 745,437 745,485 765,485 765,570 782,570 782,640 805,640 805,665 825,665 825,760 850,760 850,840 870,840 870,830 890,830 890,770 910,770 910,675 930,675 930,630 950,630 950,575 970,575 970,540 990,540 990,510 1015,510 1015,480 1085,480 1085,505 1105,505 1105,530 1130,530 1130,578 1150,578 1150,662 1170,662 1170,685 1190,685 1190,718 1230,718 1230,738 1250,738 1250,712 1270,712 1270,728 1290,728 1290,718 1295,715"/>
<polyline stroke="#55739b" points="245,410 275,410 275,425 285,425 285,432 310,432 310,455 330,455 330,440 345,440 345,438 383,438 383,395 400,395 400,390 425,390 425,398 445,398 445,460 465,460 465,578 485,578 485,535 505,535 505,585 545,585 545,560 570,560 570,520 590,520 590,475 605,475 605,450 625,450 625,440 645,440 645,432 665,432 665,425 685,425 685,415 693,415 693,405 715,405 715,410 750,410 750,430 770,430 770,800 790,800 790,620 808,620 808,530 828,530 828,548 850,548 850,595 870,595 870,633 890,633 890,612 910,612 910,625 930,625 930,630 975,630 975,655 995,655 995,690 1015,690 1015,750 1048,750 1048,830 1068,830 1068,805 1090,805 1090,825 1110,825 1110,870 1130,870 1130,958 1150,958 1150,983 1170,983 1170,998 1195,998 1195,1003 1215,1003 1215,1018 1232,1018 1232,1043 1250,1043 1250,1038 1292,1038 1295,983"/>
<polyline stroke="#46648d" stroke-width="7" points="245,743 275,743 275,723 290,723 290,706 315,706 315,670 320,662 335,662 335,657 440,657"/>
</g>
</svg>

<!-- Chart 4L -->
<svg class="a" style="left:0;top:2040px" width="510" height="490" viewBox="0 0 1530 1470">
<rect x="210" y="263" width="1157" height="817" fill="#eaeaf2"/>
<g font-size="35" text-anchor="end">
<text transform="translate(200,308) scale(1,1.5)" dy=".35em">16000</text>
<text transform="translate(200,446) scale(1,1.5)" dy=".35em">15000</text>
<text transform="translate(200,582) scale(1,1.5)" dy=".35em">14000</text>
<text transform="translate(200,718) scale(1,1.5)" dy=".35em">13000</text>
<text transform="translate(200,856) scale(1,1.5)" dy=".35em">12000</text>
<text transform="translate(200,992) scale(1,1.5)" dy=".35em">11000</text>
<text transform="translate(322,1118) scale(1,1.5) rotate(-45)">01-28</text>
<text transform="translate(450,1118) scale(1,1.5) rotate(-45)">03-12</text>
<text transform="translate(579,1118) scale(1,1.5) rotate(-45)">04-25</text>
<text transform="translate(707,1118) scale(1,1.5) rotate(-45)">06-09</text>
<text transform="translate(836,1118) scale(1,1.5) rotate(-45)">07-24</text>
<text transform="translate(964,1118) scale(1,1.5) rotate(-45)">09-06</text>
<text transform="translate(1093,1118) scale(1,1.5) rotate(-45)">10-22</text>
<text transform="translate(1221,1118) scale(1,1.5) rotate(-45)">12-05</text>
</g>
<g fill="none" stroke-width="5">
<polyline stroke="#b2eef0" points="262,782 285,782 285,800 300,800 300,805 365,805 365,790 385,790 385,782 405,782 405,798 425,798 425,828 445,828 445,845 465,845 465,865 490,865 490,885 510,885 510,898 530,898 530,915 550,915 550,905 570,905 570,898 590,898 590,905 628,905 628,965 648,965 648,975 665,975 665,998 685,998 685,1018 705,1018 705,1023 725,1023 725,1030 750,1030 750,1042 770,1042 770,1022 790,1022 790,1015 815,1015 815,1005 835,1005 835,980 855,980 855,945 875,945 875,935 895,935 895,940 915,940 915,943 935,943 935,955 960,955 960,945 980,945 980,935 1000,935 1000,925 1020,925 1020,920 1040,920 1040,905 1070,905 1070,850 1080,850 1080,835 1100,835 1100,810 1120,810 1120,778 1140,778 1140,742 1160,742 1160,740 1190,740 1190,748 1210,748 1210,768 1225,768 1225,800 1240,800 1240,825 1260,825 1260,815 1280,815 1280,798 1315,798"/>
<polyline stroke="#12bdf5" points="262,540 290,540 290,553 310,553 310,527 330,527 330,550 350,550 350,580 390,580 390,522 410,522 410,498 432,498 432,485 450,485 450,475 475,475 475,470 515,470 515,485 535,485 535,462 555,462 555,550 575,550 575,600 595,600 595,655 635,655 635,668 660,668 660,690 678,690 678,748 700,748 700,765 718,765 718,830 738,830 738,880 760,880 760,888 780,888 780,910 800,910 800,922 820,922 820,932 840,932 840,898 860,898 860,905 880,905 880,870 920,870 920,908 940,908 940,855 960,855 960,832 980,832 980,838 1000,838 1000,860 1022,860 1022,820 1045,820 1045,848 1075,848 1075,760 1100,760 1100,750 1120,750 1120,738 1140,738 1140,765 1160,765 1160,770 1180,770 1180,800 1200,800 1200,780 1220,780 1220,800 1240,800 1240,808 1260,808 1260,812 1280,812 1280,758 1315,758"/>
<polyline stroke="#6f98ea" points="262,360 295,360 295,345 315,345 315,365 325,380 340,380 340,400 358,400 358,342 375,342 375,318 400,318 400,300 418,300 418,320 440,320 440,325 465,325 465,345 485,345 485,375 505,375 505,370 520,370 520,390 545,390 545,410 565,410 565,460 585,460 585,480 605,480 605,510 625,510 625,535 645,535 645,580 665,580 665,640 685,640 685,660 708,660 708,685 725,685 725,740 745,740 745,762 765,762 765,773 785,773 785,765 805,765 805,760 825,760 825,715 845,715 845,690 868,690 868,640 888,640 888,618 908,618 908,595 950,595 950,605 970,605 970,572 990,572 990,620 1010,620 1010,618 1030,618 1030,690 1050,690 1050,705 1070,705 1070,720 1100,720 1100,727 1120,727 1120,722 1165,722 1165,685 1185,685 1185,675 1210,675 1210,650 1230,650 1230,678 1250,678 1250,662 1290,662 1290,672 1310,672 1315,690"/>
<polyline stroke="#55739b" points="262,795 280,795 280,815 300,815 300,800 320,800 320,793 340,793 340,785 360,785 360,782 400,782 400,758 425,758 425,765 445,765 445,745 465,745 465,730 485,730 485,718 505,718 505,708 525,708 525,700 545,700 545,705 565,705 565,688 570,672 605,672 605,710 625,710 625,720 645,720 645,755 665,755 665,780 690,780 690,770 705,770 705,785 730,785 730,805 750,805 750,840 770,840 770,830 790,830 790,820 810,820 810,795 830,795 830,775 850,775 850,738 870,738 870,742 890,742 890,765 930,765 930,745 950,745 950,730 960,730 960,720 975,705 995,705 995,715 1015,715 1015,722 1035,722 1035,735 1068,735 1068,660 1090,660 1090,595 1110,595 1110,572 1130,572 1130,512 1150,512 1150,482 1170,482 1170,440 1190,440 1190,430 1210,430 1210,410 1230,410 1230,380 1255,380 1255,375 1275,375 1275,345 1295,345 1295,372 1310,372 1315,355"/>
<polyline stroke="#46648d" stroke-width="7" points="262,698 290,698 290,665 315,665 315,688 335,688 335,618 355,618 355,592 460,592"/>
</g>
</svg>

<!-- Chart 4R -->
<svg class="a" style="left:505px;top:2040px" width="507" height="490" viewBox="0 0 1521 1470">
<rect x="192" y="263" width="1155" height="817" fill="#eaeaf2"/>
<g font-size="35" text-anchor="end">
<text transform="translate(183,447) scale(1,1.5)" dy=".35em">1000</text>
<text transform="translate(183,680) scale(1,1.5)" dy=".35em">500</text>
<text transform="translate(183,908) scale(1,1.5)" dy=".35em">0</text>
<text transform="translate(304,1118) scale(1,1.5) rotate(-45)">01-28</text>
<text transform="translate(432,1118) scale(1,1.5) rotate(-45)">03-12</text>
<text transform="translate(561,1118) scale(1,1.5) rotate(-45)">04-25</text>
<text transform="translate(689,1118) scale(1,1.5) rotate(-45)">06-09</text>
<text transform="translate(818,1118) scale(1,1.5) rotate(-45)">07-24</text>
<text transform="translate(946,1118) scale(1,1.5) rotate(-45)">09-06</text>
<text transform="translate(1075,1118) scale(1,1.5) rotate(-45)">10-22</text>
<text transform="translate(1203,1118) scale(1,1.5) rotate(-45)">12-05</text>
</g>
<g fill="none" stroke-width="5" stroke-linejoin="round">
<polyline stroke="#b2eef0" points="245,635 255,640 265,640 275,645 285,650 295,650 305,650 315,650 325,650 335,640 345,620 355,640 365,660 375,690 385,715 395,710 405,700 415,705 425,700 435,690 445,680 455,670 465,680 475,690 485,680 495,670 505,675 515,670 525,665 535,660 545,650 555,655 565,660 575,665 585,660 595,660 605,665 615,660 625,655 635,640 645,640 655,650 665,660 675,655 685,640 695,650 705,660 715,670 725,680 735,690 745,700 755,700 765,705 775,710 785,712 795,715 805,715 815,718 825,720 835,720 845,720 855,715 865,720 875,725 885,730 895,745 905,760 915,768 925,765 935,760 945,762 955,770 965,775 975,770 985,775 995,775 1005,778 1015,778 1025,778 1035,782 1045,782 1055,780 1065,760 1075,750 1085,745 1095,740 1105,730 1115,720 1125,700 1135,680 1145,650 1155,625 1165,625 1175,625 1185,615 1192,650 1200,690 1208,730 1216,760 1224,755 1232,765 1240,765 1248,760 1256,750 1264,720 1268,630 1272,650 1276,710 1282,725 1290,730 1295,725"/>
<polyline stroke="#12bdf5" points="245,555 255,560 265,555 275,548 285,550 295,555 305,550 315,560 325,575 335,585 345,585 355,588 365,585 375,580 385,575 395,578 405,570 415,560 425,555 435,550 445,548 455,545 465,530 475,510 485,515 495,520 505,500 515,485 525,470 535,460 545,445 555,440 565,440 575,445 585,450 595,455 605,460 615,465 625,480 635,500 645,520 655,540 665,560 675,575 685,590 695,590 705,610 715,630 725,660 735,690 745,680 752,650 760,640 768,635 776,650 784,655 792,650 800,660 808,658 816,660 824,660 832,660 840,665 848,670 856,685 864,690 872,680 880,678 888,672 896,675 904,678 912,680 920,680 928,680 936,690 944,700 952,690 960,670 968,660 976,665 984,660 992,660 1000,665 1008,660 1016,650 1024,655 1032,645 1040,640 1048,642 1056,650 1064,645 1072,648 1080,645 1088,648 1096,645 1104,640 1112,630 1120,610 1128,595 1136,580 1144,570 1152,555 1160,540 1168,520 1176,490 1184,460 1192,455 1200,450 1208,470 1216,490 1224,510 1232,530 1240,550 1248,560 1256,575 1264,590 1272,610 1280,620 1288,635 1295,635"/>
<polyline stroke="#6f98ea" points="245,592 250,595 255,610 260,620 265,640 270,650 276,660 282,650 288,660 294,670 300,670 306,680 312,690 318,700 324,720 330,720 336,720 342,718 348,700 352,650 358,600 364,570 370,560 376,570 382,590 388,580 394,585 400,600 406,620 412,640 418,660 424,680 430,690 436,700 442,720 448,730 454,740 460,760 466,770 472,760 478,750 484,760 490,745 496,740 502,750 508,740 514,735 520,730 526,740 532,750 538,760 544,760 550,770 556,760 562,770 568,780 574,785 580,780 586,790 592,790 598,795 604,795 610,790 616,780 622,785 628,790 634,795 640,790 646,800 652,800 658,815 664,800 670,790 676,780 682,780 688,790 694,790 700,795 706,800 712,810 718,830 724,850 730,870 736,880 742,870 748,860 754,870 760,880 766,850 772,820 778,810 784,820 790,830 796,820 802,840 808,830 814,810 820,780 826,760 832,750 838,760 844,790 850,820 856,810 862,800 868,810 874,800 880,820 886,840 892,850 898,850 904,860 910,860 916,860 922,870 928,880 934,880 940,890 946,895 952,900 958,895 964,900 970,900 976,905 982,910 988,915 994,920 1000,925 1006,930 1012,935 1018,930 1024,925 1030,918 1036,915 1042,915 1048,918 1054,920 1060,925 1066,930 1072,940 1078,945 1084,950 1090,960 1096,965 1102,970 1108,965 1114,960 1120,955 1126,950 1132,948 1138,945 1144,950 1150,955 1156,945 1162,945 1168,950 1174,960 1180,965 1186,970 1192,980 1198,990 1204,995 1210,1000 1216,1015 1222,1030 1228,1040 1234,1030 1240,1015 1246,1010 1252,1000 1258,1005 1264,1015 1270,1020 1276,1015 1282,1020 1288,1022 1295,1022"/>
<polyline stroke="#55739b" points="245,728 252,730 258,760 265,770 270,800 276,830 282,840 288,855 294,850 300,865 306,860 312,855 318,850 324,840 330,845 336,835 342,850 350,860 358,875 366,878 374,878 380,850 386,800 392,760 398,750 405,752 412,745 418,730 424,730 430,720 436,700 442,720 448,700 455,710 462,690 470,660 478,620 484,630 490,600 496,580 502,545 508,510 514,490 520,470 526,460 532,470 538,490 544,480 550,500 556,490 562,520 568,540 574,530 580,540 586,560 592,545 598,540 604,500 610,470 616,410 620,335 625,360 630,440 635,560 640,640 645,720 650,750 656,790 662,760 668,770 674,720 680,740 686,770 692,760 698,780 704,800 710,820 716,840 722,850 728,880 734,890 740,930 746,940 752,950 758,945 764,950 770,955 776,960 780,970 786,920 792,880 798,860 804,820 810,790 816,740 822,710 828,680 834,660 840,650 846,630 852,580 858,610 864,680 870,640 876,610 882,580 888,560 894,570 900,580 906,570 912,590 918,585 924,600 930,590 936,610 942,620 948,630 954,610 960,610 966,580 972,550 978,520 984,510 990,440 996,400 1000,350 1006,340 1012,310 1018,340 1024,360 1030,310 1036,300 1042,300 1050,300 1056,310 1062,360 1068,400 1074,405 1080,420 1086,460 1092,510 1098,560 1104,600 1110,620 1116,600 1122,620 1128,640 1134,660 1140,650 1146,690 1150,640 1156,630 1162,600 1168,540 1174,520 1180,500 1186,490 1192,470 1198,455 1204,450 1210,445 1216,440 1222,440 1228,445 1234,440 1240,450 1246,460 1252,460 1258,470 1264,500 1270,520 1276,530 1282,545 1288,560 1295,580"/>
<polyline stroke="#46648d" stroke-width="7" points="245,1005 250,1000 255,990 260,980 265,970 270,965 275,960 280,955 285,945 290,940 295,950 300,955 305,950 310,955 315,955 320,950 325,940 330,930 335,925 340,940 350,940 360,940 380,940 410,940 440,940"/>
</g>
</svg>

<!-- legends -->
<div class="lg" style="left:7px;top:1089px;width:499px;height:24px"><i style="background:#4e6a92"></i><span style="color:#5a7399">2022</span><i style="background:#6f98ea"></i><span style="color:#7099e8">2021</span><i style="background:#4e6a92"></i><span style="color:#5a7399">2020</span><i style="background:#b2eeee"></i><span style="color:#b2eeee">2019</span><i style="background:#00bfff"></i><span style="color:#1ec0ff">2018</span></div>
<div class="lg" style="left:506px;top:1089px;width:499px;height:24px"><i style="background:#4e6a92"></i><span style="color:#5a7399">2022</span><i style="background:#6f98ea"></i><span style="color:#7099e8">2021</span><i style="background:#4e6a92"></i><span style="color:#5a7399">2020</span><i style="background:#b2eeee"></i><span style="color:#b2eeee">2019</span><i style="background:#00bfff"></i><span style="color:#1ec0ff">2018</span></div>
<div class="lg lg2" style="left:7px;top:1545px;width:499px;height:24px"><i style="background:#2f5a8f"></i><span style="color:#2c5c9a">净持仓</span><i style="background:#ff5a2a"></i><span style="color:#ff6a3c">结算价</span></div>
<div class="lg lg2" style="left:506px;top:1545px;width:499px;height:24px"><i style="background:#2f5a8f"></i><span style="color:#2c5c9a">净持仓</span><i style="background:#ff5a2a"></i><span style="color:#ff6a3c">结算价</span></div>
<div class="lg lg2" style="left:7px;top:2002px;width:499px;height:24px"><i style="background:#1ec0ff"></i><span style="color:#1ec0ff">当前</span><i style="background:#b2eeee"></i><span style="color:#b2eeee">一周前</span><i style="background:#5e7aa3"></i><span style="color:#5e7aa3">一个月前</span></div>
<div class="lg lg2" style="left:7px;top:2026px;width:499px;height:24px"><i style="background:#7aa0ea"></i><span style="color:#7aa0ea">三个月前</span><i style="background:#5e7aa3"></i><span style="color:#5e6e88">六个月前</span><i style="background:#1010ee"></i><span style="color:#1010ee">一年前</span></div>
<div class="lg" style="left:506px;top:2013px;width:499px;height:24px"><i style="background:#4e6a92"></i><span style="color:#5a7399">2022</span><i style="background:#6f98ea"></i><span style="color:#7099e8">2021</span><i style="background:#4e6a92"></i><span style="color:#5a7399">2020</span><i style="background:#b2eeee"></i><span style="color:#b2eeee">2019</span><i style="background:#00bfff"></i><span style="color:#1ec0ff">2018</span></div>
<div class="lg" style="left:7px;top:2481px;width:499px;height:24px"><i style="background:#4e6a92"></i><span style="color:#5a7399">2022</span><i style="background:#6f98ea"></i><span style="color:#7099e8">2021</span><i style="background:#4e6a92"></i><span style="color:#5a7399">2020</span><i style="background:#b2eeee"></i><span style="color:#b2eeee">2019</span><i style="background:#00bfff"></i><span style="color:#1ec0ff">2018</span></div>
<div class="lg" style="left:506px;top:2481px;width:499px;height:24px"><i style="background:#4e6a92"></i><span style="color:#5a7399">2022</span><i style="background:#6f98ea"></i><span style="color:#7099e8">2021</span><i style="background:#4e6a92"></i><span style="color:#5a7399">2020</span><i style="background:#b2eeee"></i><span style="color:#b2eeee">2019</span><i style="background:#00bfff"></i><span style="color:#1ec0ff">2018</span></div>

<!-- footer -->
<div class="vt" style="left:7px;top:2535px;height:105px;line-height:22px">免<br>责<br>声<br>明</div>
<div class="vt" style="left:7px;top:2640px;height:79px;line-height:23.5px">分<br>析<br>师</div>
<div class="a" style="left:134px;top:2539px;font-size:20px;line-height:26.7px;white-space:nowrap;color:#111">
<div style="padding-left:37px">本报告中的信息均来源于公开资料，我公司对这些信息的准确性和完整性不作任何保证。报告</div>
<div>中的内容和意见仅供参考，并不构成对所述品种买卖的出价或征价。我公司及其雇员对使用本报告</div>
<div>及其内容所引发的任何直接或间接损失概不负责。本报告仅向特定客户传送，版权归冠通期货所</div>
<div>有。未经我公司书面许可，任何机构和个人均不得以任何形式翻版、复制、引用或转载。</div>
</div>
<div class="a" style="left:174px;top:2668px;font-size:20px;line-height:28px;white-space:nowrap">王 静</div>
<div class="a" style="left:290px;top:2668px;font-size:20px;line-height:28px;white-space:nowrap">执业资格证号F0235424/Z0000771</div>

<!-- lines -->
<div class="hl" style="left:7px;top:81px;width:998px;height:2px"></div>
<div class="hl" style="left:7px;top:162px;width:998px;height:2px"></div>
<div class="hl" style="left:7px;top:657px;width:998px;height:1px"></div>
<div class="hl" style="left:7px;top:1088px;width:998px;height:1px"></div>
<div class="hl" style="left:7px;top:1113px;width:998px;height:1px"></div>
<div class="hl" style="left:7px;top:1544px;width:998px;height:1px"></div>
<div class="hl" style="left:7px;top:1569px;width:998px;height:1px"></div>
<div class="hl" style="left:7px;top:2000px;width:998px;height:1px"></div>
<div class="hl" style="left:7px;top:2049px;width:998px;height:1px"></div>
<div class="hl" style="left:7px;top:2480px;width:998px;height:1px"></div>
<div class="hl" style="left:7px;top:2505px;width:998px;height:1px"></div>
<div class="hl" style="left:7px;top:2535px;width:998px;height:1px"></div>
<div class="hl" style="left:7px;top:2640px;width:998px;height:1px"></div>
<div class="hl" style="left:506px;top:657px;width:1px;height:1848px"></div>
<div class="hl" style="left:132px;top:2535px;width:1px;height:184px"></div>

<!-- outer frame -->
<div class="a" style="left:6px;top:4px;width:1000px;height:2716px;border:2px solid #5b7baa;box-sizing:border-box"></div>

</div>
</body></html>
